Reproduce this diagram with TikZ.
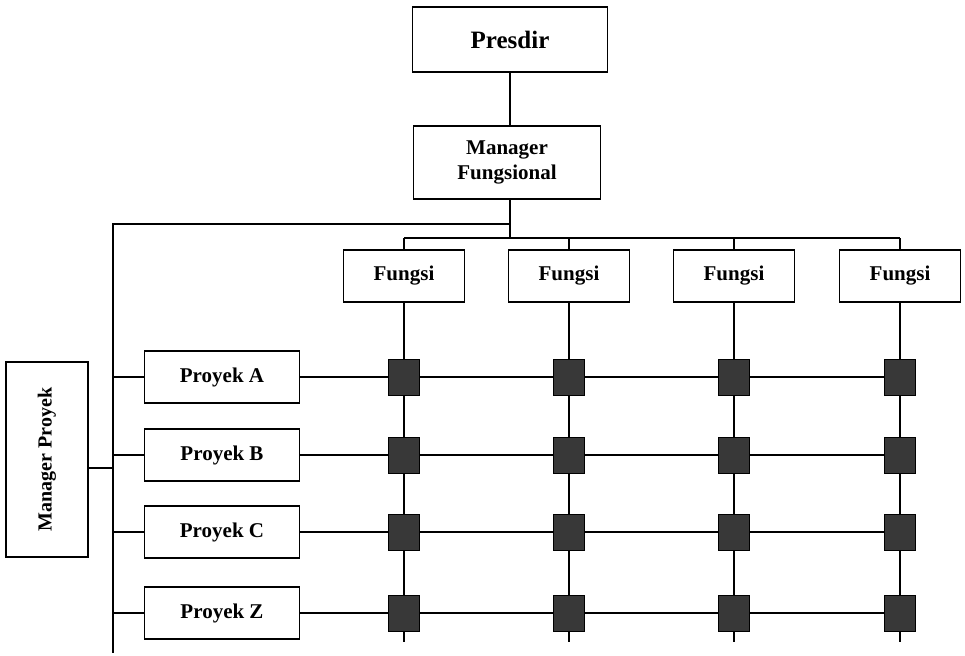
\documentclass[tikz,border=0pt]{standalone}
\usepackage{fontspec}
\setmainfont{Liberation Serif}
\begin{document}
\begin{tikzpicture}[x=1pt,y=-1pt,
  line width=1.6pt,
  box/.style={draw, fill=white, inner sep=0pt, font=\bfseries\fontsize{21}{25}\selectfont, align=center},
  fbox/.style={box, minimum width=121pt, minimum height=52pt},
  pbox/.style={box, minimum width=155pt, minimum height=52pt},
  cell/.style={draw=black, fill=black!78, line width=1pt, minimum width=31pt, minimum height=36pt, inner sep=0pt}
]
\useasboundingbox (0,0) rectangle (965,655);

% top of the hierarchy
\node[box, minimum width=195pt, minimum height=65pt, font=\bfseries\fontsize{25}{30}\selectfont] (presdir) at (510,39.5) {Presdir};
\node[box, minimum width=187pt, minimum height=73pt] (mgrf) at (507,162.5) {Manager\\Fungsional};

% functional departments
\node[fbox] (f1) at (404,276) {Fungsi};
\node[fbox] (f2) at (569,276) {Fungsi};
\node[fbox] (f3) at (734,276) {Fungsi};
\node[fbox] (f4) at (900,276) {Fungsi};

% projects
\node[pbox] (pA) at (222,377) {Proyek A};
\node[pbox] (pB) at (222,455) {Proyek B};
\node[pbox] (pC) at (222,532) {Proyek C};
\node[pbox] (pZ) at (222,613) {Proyek Z};

\node[box, minimum width=82pt, minimum height=195pt] (mgrp) at (47,459.5)
  {\rotatebox{90}{\fontsize{20}{24}\selectfont Manager Proyek}};

% junctions
\coordinate (j) at (510,224);
\coordinate (bus) at (510,238);
\coordinate (ltop) at (113,224);
\coordinate (lbot) at (113,653);
\coordinate (colend) at (0,642);
\coordinate (mp) at (88,468);

% vertical chain
\draw (presdir.south) -- (presdir.south |- mgrf.north);
\draw (presdir.south |- mgrf.south) -- (bus);
\draw (f1.north |- bus) -- (f4.north |- bus);
\foreach \f in {f1,f2,f3,f4} {
  \draw (\f.north) -- (\f.north |- bus);
  \draw (\f.south) -- (\f.south |- colend);
}

% project manager spine
\draw (j) -- (ltop) -- (lbot);
\draw (mgrp.east |- mp) -- (mp -| ltop);
\foreach \p in {pA,pB,pC,pZ} {
  \draw (\p.west -| ltop) -- (\p.west);
  \draw (\p.east) -- (\p.east -| f4);
}

% matrix cells
\foreach \p in {pA,pB,pC,pZ} {
  \foreach \f in {f1,f2,f3,f4} {
    \node[cell] at (\f |- \p) {};
  }
}
\end{tikzpicture}
\end{document}
